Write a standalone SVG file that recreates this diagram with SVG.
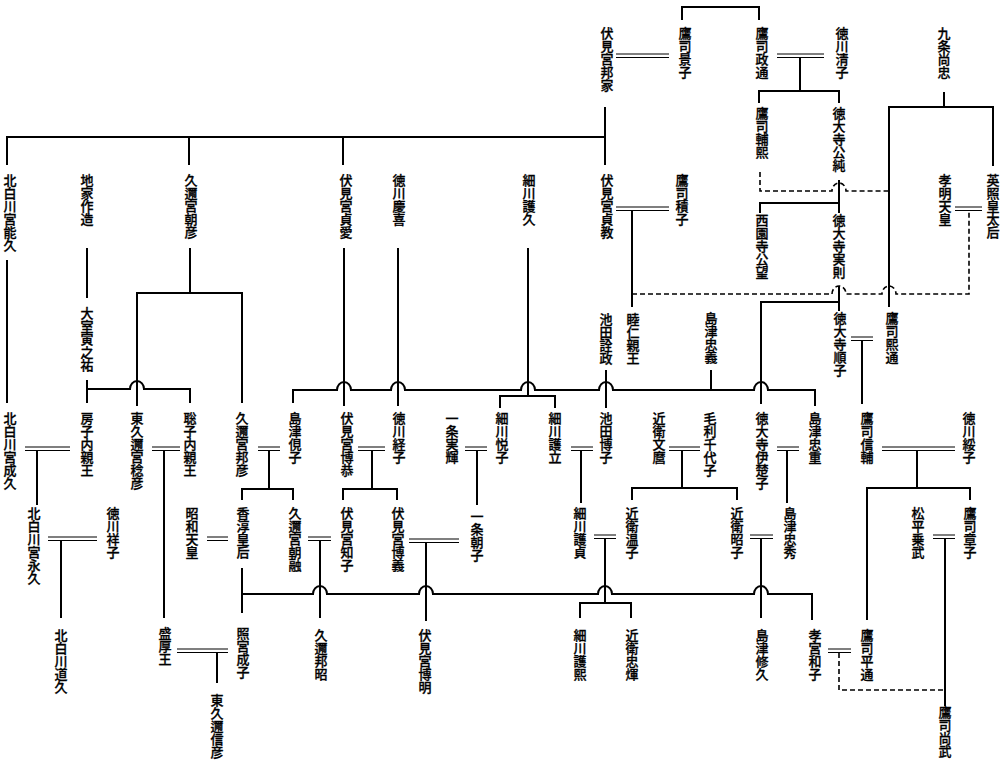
<svg xmlns="http://www.w3.org/2000/svg" width="1007" height="768" viewBox="0 0 1007 768">
<style>
text{font-family:"Noto Sans CJK JP","Noto Sans CJK SC",sans-serif;font-size:13px;font-weight:500;writing-mode:vertical-rl;text-orientation:upright;fill:#000;stroke:#000;stroke-width:0.3}
.s{fill:none;stroke:#000;stroke-width:2}
.d{fill:none;stroke:#000;stroke-width:1.2}
.k{fill:none;stroke:#000;stroke-width:1.6;stroke-dasharray:5,3}
</style>
<rect width="1007" height="768" fill="#fff"/>
<g id="connectors">
<path class="s" d="M682,20 V7 H759 V20"/>
<path class="d" d="M616,54 H669 M616,57.5 H669"/>
<path class="d" d="M777,54 H824 M777,57.5 H824"/>
<path class="s" d="M800,58 V91 M759,103 V91 H839 V103"/>
<path class="s" d="M944,92 V107 M889,307 V107 H993 V166"/>
<path class="s" d="M605,107 V165 M7,165 V137 H605 M189,137 V165 M343,137 V165"/>
<path class="d" d="M616,207 H669 M616,210.5 H669"/>
<path class="s" d="M632,211 V307"/>
<path class="d" d="M955,207 H982 M955,210.5 H982"/>
<path class="k" d="M760,172 V191 H832 a7,8 0 0 1 14,0 H889"/>
<path class="s" d="M839,180 V213 M760,213 V203 H839"/>
<path class="k" d="M632,294 H832 a7,8 0 0 1 14,0 H882 a7,8 0 0 1 14,0 H969 V211"/>
<path class="s" d="M839,286 V311 M761,404 V302 H839"/>
<path class="d" d="M851,337 H873 M851,340.5 H873"/>
<path class="s" d="M862,340 V404"/>
<path class="s" d="M711,370 V390 M293,403 V390 H337 a7,8 0 0 1 14,0 H391 a7,8 0 0 1 14,0 H521 a7,8 0 0 1 14,0 H599 a7,8 0 0 1 14,0 H754 a7,8 0 0 1 14,0 H815 V406"/>
<path class="s" d="M344,248 V406 M398,248 V406"/>
<path class="s" d="M528,248 V396 M500,408 V396 H555 V408"/>
<path class="s" d="M606,370 V408"/>
<path class="s" d="M7,260 V403"/>
<path class="s" d="M87,248 V298"/>
<path class="s" d="M87,380 V403 M87,389 H130 a7,8 0 0 1 14,0 H190 V403"/>
<path class="s" d="M190,248 V293 M137,406 V293 H242 V403"/>
<path class="d" d="M25,447 H70 M25,450.5 H70"/>
<path class="s" d="M37,451 V505"/>
<path class="d" d="M152,447 H180 M152,450.5 H180"/>
<path class="s" d="M164,451 V618"/>
<path class="d" d="M258,447 H280 M258,450.5 H280"/>
<path class="s" d="M269,451 V489 M242,500 V489 H293 V500"/>
<path class="d" d="M358,447 H385 M358,450.5 H385"/>
<path class="s" d="M372,451 V489 M343,500 V489 H397 V500"/>
<path class="d" d="M465,447 H487 M465,450.5 H487"/>
<path class="s" d="M477,451 V505"/>
<path class="d" d="M571,447 H593 M571,450.5 H593"/>
<path class="s" d="M581,451 V503"/>
<path class="d" d="M669,447 H700 M669,450.5 H700"/>
<path class="s" d="M682,451 V488 M632,500 V488 H737 V500"/>
<path class="d" d="M777,447 H799 M777,450.5 H799"/>
<path class="s" d="M787,451 V503"/>
<path class="d" d="M882,447 H955 M882,450.5 H955"/>
<path class="s" d="M917,451 V488 M867,620 V488 H970 V500"/>
<path class="d" d="M48,537 H97 M48,540.5 H97"/>
<path class="s" d="M61,541 V618"/>
<path class="d" d="M207,537 H228 M207,540.5 H228"/>
<path class="s" d="M242,568 V613 M242,594 H313 a7,8 0 0 1 14,0 H419 a7,8 0 0 1 14,0 H598 a7,8 0 0 1 14,0 H754 a7,8 0 0 1 14,0 H812 V620"/>
<path class="d" d="M308,537 H331 M308,540.5 H331"/>
<path class="s" d="M320,541 V618"/>
<path class="d" d="M409,539 H459 M409,542.5 H459"/>
<path class="s" d="M426,543 V621"/>
<path class="d" d="M594,535 H616 M594,538.5 H616"/>
<path class="s" d="M605,539 V603 M580,618 V603 H631 V618"/>
<path class="d" d="M750,535 H773 M750,538.5 H773"/>
<path class="s" d="M761,539 V618"/>
<path class="d" d="M933,535 H955 M933,538.5 H955"/>
<path class="s" d="M945,539 V706"/>
<path class="d" d="M177,649 H228 M177,652.5 H228"/>
<path class="s" d="M217,653 V683"/>
<path class="d" d="M828,649 H851 M828,652.5 H851"/>
<path class="k" d="M839,653 V690 H945"/>
</g>
<g id="n-fushimi-kuniie"><text x="607" y="27">伏見宮邦家</text></g>
<g id="n-takatsukasa-keiko"><text x="685" y="27">鷹司景子</text></g>
<g id="n-takatsukasa-masamichi"><text x="762" y="27">鷹司政通</text></g>
<g id="n-tokugawa-kiyoko"><text x="842" y="27">徳川清子</text></g>
<g id="n-kujo-hisatada"><text x="944" y="27">九条尚忠</text></g>
<g id="n-takatsukasa-sukehiro"><text x="762" y="107">鷹司輔熙</text></g>
<g id="n-tokudaiji-kinito"><text x="839" y="107">徳大寺公純</text></g>
<g id="n-kitashirakawa-yoshihisa"><text x="10" y="174">北白川宮能久</text></g>
<g id="n-jike-sakuzo"><text x="87" y="174">地家作造</text></g>
<g id="n-kuni-asahiko"><text x="191" y="174">久邇宮朝彦</text></g>
<g id="n-fushimi-sadanaru"><text x="346" y="174">伏見宮貞愛</text></g>
<g id="n-tokugawa-yoshinobu"><text x="399" y="174">徳川慶喜</text></g>
<g id="n-hosokawa-moriyuki"><text x="529" y="174">細川護久</text></g>
<g id="n-fushimi-sadanori"><text x="607" y="174">伏見宮貞教</text></g>
<g id="n-takatsukasa-tsumiko"><text x="682" y="174">鷹司積子</text></g>
<g id="n-komei"><text x="945" y="174">孝明天皇</text></g>
<g id="n-eisho"><text x="993" y="174">英照皇太后</text></g>
<g id="n-saionji-kinmochi"><text x="762" y="214">西園寺公望</text></g>
<g id="n-tokudaiji-sanetsune"><text x="839" y="214">徳大寺実則</text></g>
<g id="n-omuro-toranosuke"><text x="87" y="307">大室寅之祐</text></g>
<g id="n-ikeda-akimasa"><text x="606" y="313">池田詮政</text></g>
<g id="n-mutsuhito"><text x="633" y="313">睦仁親王</text></g>
<g id="n-shimazu-tadayoshi"><text x="711" y="312">島津忠義</text></g>
<g id="n-tokudaiji-junko"><text x="840" y="312">徳大寺順子</text></g>
<g id="n-takatsukasa-hiromichi"><text x="892" y="312">鷹司熙通</text></g>
<g id="n-kitashirakawa-naruhisa"><text x="10" y="412">北白川宮成久</text></g>
<g id="n-fusako"><text x="87" y="412">房子内親王</text></g>
<g id="n-higashikuni-naruhiko"><text x="137" y="412">東久邇宮稔彦</text></g>
<g id="n-toshiko"><text x="190" y="412">聡子内親王</text></g>
<g id="n-kuni-kuniyoshi"><text x="242" y="412">久邇宮邦彦</text></g>
<g id="n-shimazu-chikako"><text x="295" y="412">島津俔子</text></g>
<g id="n-fushimi-hiroyasu"><text x="347" y="412">伏見宮博恭</text></g>
<g id="n-tokugawa-tsuneko"><text x="399" y="412">徳川経子</text></g>
<g id="n-ichijo-saneteru"><text x="452" y="412">一条実輝</text></g>
<g id="n-hosokawa-etsuko"><text x="502" y="412">細川悦子</text></g>
<g id="n-hosokawa-moritatsu"><text x="555" y="412">細川護立</text></g>
<g id="n-ikeda-hiroko"><text x="606" y="412">池田博子</text></g>
<g id="n-konoe-fumimaro"><text x="659" y="412">近衛文麿</text></g>
<g id="n-mori-chiyoko"><text x="710" y="412">毛利千代子</text></g>
<g id="n-tokudaiji-isoko"><text x="762" y="412">徳大寺伊楚子</text></g>
<g id="n-shimazu-tadashige"><text x="815" y="412">島津忠重</text></g>
<g id="n-takatsukasa-nobusuke"><text x="867" y="412">鷹司信輔</text></g>
<g id="n-tokugawa-yasuko"><text x="969" y="412">徳川綏子</text></g>
<g id="n-kitashirakawa-nagahisa"><text x="34" y="507">北白川宮永久</text></g>
<g id="n-tokugawa-sachiko"><text x="113" y="507">徳川祥子</text></g>
<g id="n-showa"><text x="192" y="507">昭和天皇</text></g>
<g id="n-kojun"><text x="243" y="507">香淳皇后</text></g>
<g id="n-kuni-asaakira"><text x="295" y="507">久邇宮朝融</text></g>
<g id="n-fushimi-tomoko"><text x="347" y="507">伏見宮知子</text></g>
<g id="n-fushimi-hiroyoshi"><text x="398" y="507">伏見宮博義</text></g>
<g id="n-ichijo-tomoko"><text x="477" y="510">一条朝子</text></g>
<g id="n-hosokawa-morisada"><text x="580" y="507">細川護貞</text></g>
<g id="n-konoe-onko"><text x="632" y="507">近衛温子</text></g>
<g id="n-konoe-akiko"><text x="737" y="507">近衛昭子</text></g>
<g id="n-shimazu-tadahide"><text x="790" y="507">島津忠秀</text></g>
<g id="n-matsudaira-noritake"><text x="918" y="507">松平乗武</text></g>
<g id="n-takatsukasa-akiko"><text x="970" y="507">鷹司章子</text></g>
<g id="n-kitashirakawa-michihisa"><text x="61" y="629">北白川道久</text></g>
<g id="n-morihiro"><text x="165" y="627">盛厚王</text></g>
<g id="n-teru-shigeko"><text x="243" y="627">照宮成子</text></g>
<g id="n-kuni-kuniaki"><text x="321" y="629">久邇邦昭</text></g>
<g id="n-fushimi-hiroaki"><text x="425" y="629">伏見宮博明</text></g>
<g id="n-hosokawa-morihiro"><text x="580" y="629">細川護熙</text></g>
<g id="n-konoe-tadateru"><text x="632" y="629">近衛忠煇</text></g>
<g id="n-shimazu-nobuhisa"><text x="762" y="629">島津修久</text></g>
<g id="n-taka-kazuko"><text x="815" y="629">孝宮和子</text></g>
<g id="n-takatsukasa-toshimichi"><text x="867" y="629">鷹司平通</text></g>
<g id="n-higashikuni-nobuhiko"><text x="217" y="694">東久邇信彦</text></g>
<g id="n-takatsukasa-naotake"><text x="945" y="706">鷹司尚武</text></g>
</svg>
